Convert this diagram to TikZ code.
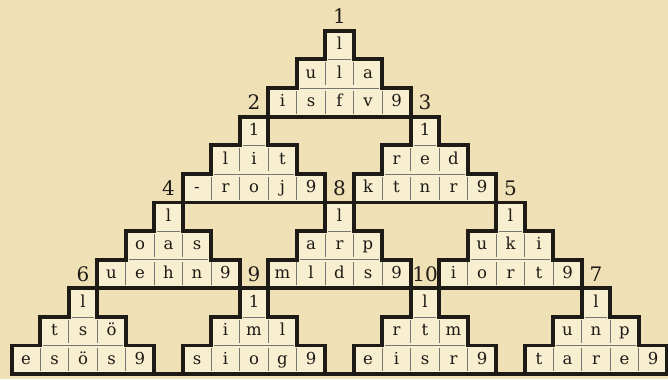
\documentclass[tikz,border=0pt]{standalone}
\usepackage{fontspec}
\setmainfont{DejaVu Serif}

\definecolor{paper}{RGB}{240,224,182}
\definecolor{cellbg}{RGB}{248,238,208}
\definecolor{ink}{RGB}{30,26,22}

\begin{document}
\begin{tikzpicture}[
    x=28.5pt, y=28.6pt,
    cell/.style={inner sep=0pt,text height=12pt,text depth=3pt,font=\fontsize{16.5}{16.5}\selectfont,text=ink},
    tag/.style={inner sep=0pt,font=\fontsize{20}{20}\selectfont,text=ink},
    rim/.style={line width=3.8pt,draw=ink,line join=miter},
    sep/.style={line width=0.6pt,draw=ink!60,shorten >=2.8pt,shorten <=2.8pt}
]
\useasboundingbox[fill=paper] (-2.912,-0.175) rectangle (20.526,13.077);

% number / centre / bottom row / top cell / middle row / bottom row
\foreach \pid/\cx/\yb/\tp/\mr/\br in {
    1/9/9/l/{u,l,a}/{i,s,f,v,9},
    2/6/6/1/{l,i,t}/{-,r,o,j,9},
    3/12/6/1/{r,e,d}/{k,t,n,r,9},
    4/3/3/l/{o,a,s}/{u,e,h,n,9},
    8/9/3/l/{a,r,p}/{m,l,d,s,9},
    5/15/3/l/{u,k,i}/{i,o,r,t,9},
    6/0/0/l/{t,s,ö}/{e,s,ö,s,9},
    9/6/0/1/{i,m,l}/{s,i,o,g,9},
    10/12/0/l/{r,t,m}/{e,i,s,r,9},
    7/18/0/l/{u,n,p}/{t,a,r,e,9}}
{
    \draw[rim,fill=cellbg] (\cx-2.5,\yb) -- ++(5,0) -- ++(0,1) -- ++(-1,0) -- ++(0,1)
        -- ++(-1,0) -- ++(0,1) -- ++(-1,0) -- ++(0,-1) -- ++(-1,0) -- ++(0,-1)
        -- ++(-1,0) -- cycle;
    \foreach \k in {1,...,4}
        \draw[sep] (\cx-2.5+\k,\yb) -- ++(0,1);
    \foreach \k in {1,2}
        \draw[sep] (\cx-1.5+\k,\yb+1) -- ++(0,1);
    \draw[sep] (\cx-1.5,\yb+1) -- ++(3,0);
    \draw[sep] (\cx-0.5,\yb+2) -- ++(1,0);

    \node[cell] (p\pid-t) at (\cx,\yb+2.5) {\tp};
    \foreach \ch [count=\i] in \mr
        \node[cell] (p\pid-m\i) at (\cx+\i-2,\yb+1.5) {\ch};
    \foreach \ch [count=\i] in \br
        \node[cell] (p\pid-b\i) at (\cx+\i-3,\yb+0.5) {\ch};

    \node[tag] (lab\pid) at (\cx,\yb+3.5) {\pid};
}

\draw[rim] (-2.5,0) -- (20.5,0);

\end{tikzpicture}
\end{document}
